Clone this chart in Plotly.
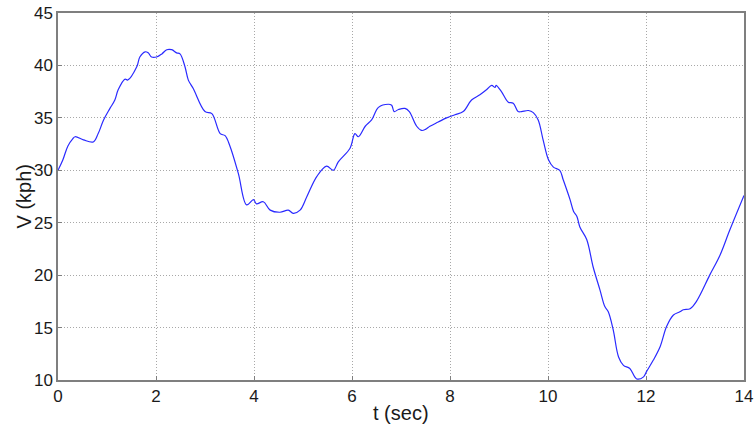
import plotly.graph_objects as go

t_sec = [0.0, 0.1, 0.2, 0.3, 0.35, 0.52, 0.72, 0.82, 0.93, 1.06, 1.16, 1.23, 1.37, 1.42, 1.61, 1.67, 1.78, 1.84, 1.91, 2.01,
         2.12, 2.22, 2.32, 2.42, 2.49, 2.59, 2.66, 2.76, 3.0, 3.14, 3.31, 3.41, 3.51, 3.68, 3.85, 3.99, 4.05, 4.19, 4.33,
         4.53, 4.70, 4.80, 4.94, 5.08, 5.28, 5.48, 5.62, 5.72, 5.96, 6.06, 6.13, 6.27, 6.40, 6.54, 6.74, 6.81, 6.86, 6.95,
         7.08, 7.17, 7.32, 7.42, 7.50, 7.59, 7.76, 7.93, 8.10, 8.27, 8.44, 8.61, 8.75, 8.85, 8.92, 8.94, 9.05, 9.19, 9.29,
         9.39, 9.46, 9.60, 9.70, 9.80, 9.90, 10.01, 10.11, 10.24, 10.31, 10.45, 10.52, 10.59, 10.65, 10.79, 10.92, 11.06,
         11.16, 11.23, 11.33, 11.44, 11.54, 11.67, 11.81, 11.95, 12.01, 12.15, 12.29, 12.42, 12.56, 12.69, 12.76, 12.90,
         13.03, 13.3, 13.51, 13.71, 14.0]
v_kph = [30.0, 31.0, 32.3, 33.0, 33.2, 32.9, 32.7, 33.5, 34.8, 35.9, 36.7, 37.7, 38.7, 38.6, 39.9, 40.8, 41.3, 41.2, 40.8, 40.8,
         41.1, 41.5, 41.5, 41.2, 41.1, 39.9, 38.6, 37.8, 35.6, 35.4, 33.5, 33.3, 32.3, 29.7, 26.7, 27.2, 26.8, 27.0, 26.2,
         26.0, 26.2, 25.9, 26.2, 27.5, 29.4, 30.4, 30.0, 30.8, 32.1, 33.5, 33.2, 34.2, 34.8, 36.0, 36.3, 36.2, 35.6, 35.8,
         35.9, 35.6, 34.2, 33.8, 33.9, 34.2, 34.6, 35.0, 35.3, 35.6, 36.7, 37.2, 37.7, 38.1, 37.9, 38.1, 37.5, 36.5, 36.4,
         35.6, 35.6, 35.7, 35.5, 34.8, 32.9, 31.0, 30.3, 30.0, 29.1, 27.2, 26.1, 25.6, 24.6, 23.4, 20.8, 18.6,
         17.0, 16.5, 14.8, 12.2, 11.4, 11.1, 10.1, 10.3, 10.8, 11.9, 13.2, 15.1, 16.2, 16.5, 16.7, 16.8,
         17.5, 20.0, 21.9, 24.3, 27.6]

x_ticks = [0, 2, 4, 6, 8, 10, 12, 14]
y_ticks = [10, 15, 20, 25, 30, 35, 40, 45]
x_title = "t (sec)"
y_title = "V (kph)"

FONT = "Liberation Sans, Arial"
fig = go.Figure(go.Scatter(x=t_sec, y=v_kph, mode="lines",
                           line=dict(color="#2a2aff", width=1.2), line_shape="spline"))

axis_common = dict(showline=True, linecolor="#7f7f7f", linewidth=1.5, mirror=True,
                   showgrid=True, gridcolor="#a8a8a8", griddash="1px,2px", gridwidth=1,
                   zeroline=False, ticks="inside", ticklen=4, tickcolor="#7f7f7f",
                   automargin=False,
                   tickfont=dict(family=FONT, size=17, color="#1a1a1a"))

fig.update_xaxes(range=[0, 14], tickvals=x_ticks, **axis_common)
fig.update_yaxes(range=[10, 45], tickvals=y_ticks, **axis_common)

fig.add_annotation(text=x_title, xref="paper", yref="paper", x=0.5, y=-0.09,
                   xanchor="center", yanchor="middle", showarrow=False,
                   font=dict(family=FONT, size=20, color="#1a1a1a"))
fig.add_annotation(text=y_title, xref="paper", yref="paper", x=-0.0496, y=0.5,
                   xanchor="center", yanchor="middle", showarrow=False, textangle=-90,
                   font=dict(family=FONT, size=20, color="#1a1a1a"))

fig.update_layout(width=756, height=424, margin=dict(l=58, r=12, t=13, b=44),
                  plot_bgcolor="white", paper_bgcolor="white", showlegend=False)

fig.write_html("out.html")
